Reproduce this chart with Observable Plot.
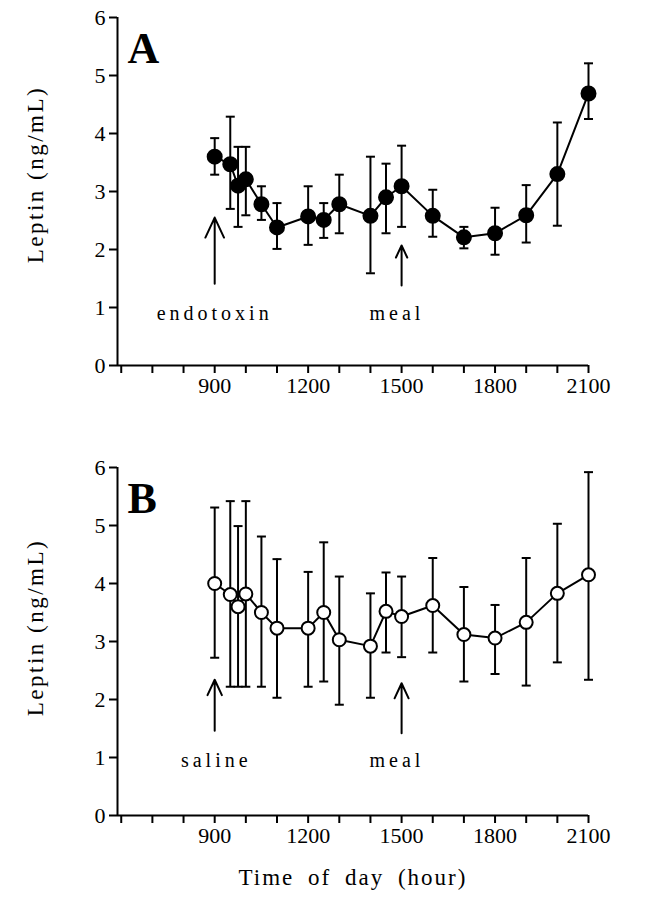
<!DOCTYPE html>
<html>
<head>
<meta charset="utf-8">
<script src="https://cdn.jsdelivr.net/npm/d3@7"></script>
<script src="https://cdn.jsdelivr.net/npm/@observablehq/plot@0.6"></script>
<style>
  html, body { margin: 0; padding: 0; background: #fff; }
  #chart { width: 650px; }
  #chart svg { display: block; overflow: visible; }
</style>
</head>
<body>
<div id="chart"></div>
<script>
// Time of day (decimal hour x 100)
const hours = [900, 950, 975, 1000, 1050, 1100, 1200, 1250, 1300, 1400, 1450, 1500, 1600, 1700, 1800, 1900, 2000, 2100];

// Panel A: endotoxin
const endoMean = [3.60, 3.47, 3.10, 3.21, 2.78, 2.38, 2.57, 2.51, 2.78, 2.58, 2.90, 3.09, 2.58, 2.21, 2.28, 2.59, 3.30, 4.69];
const endoHigh = [3.92, 4.29, 3.77, 3.77, 3.09, 2.80, 3.09, 2.80, 3.29, 3.60, 3.48, 3.79, 3.03, 2.39, 2.72, 3.11, 4.19, 5.21];
const endoLow  = [3.29, 2.70, 2.39, 2.59, 2.51, 2.01, 2.08, 2.20, 2.28, 1.59, 2.28, 2.39, 2.22, 2.02, 1.91, 2.12, 2.41, 4.25];

// Panel B: saline
const salMean = [4.00, 3.81, 3.60, 3.82, 3.50, 3.23, 3.23, 3.50, 3.03, 2.92, 3.52, 3.43, 3.62, 3.12, 3.06, 3.33, 3.83, 4.15];
const salHigh = [5.31, 5.42, 4.99, 5.42, 4.81, 4.42, 4.20, 4.71, 4.12, 3.83, 4.19, 4.12, 4.44, 3.94, 3.63, 4.44, 5.03, 5.92];
const salLow  = [2.72, 2.22, 2.22, 2.22, 2.22, 2.03, 2.22, 2.31, 1.91, 2.03, 2.81, 2.73, 2.81, 2.31, 2.44, 2.24, 2.64, 2.34];

// Ticks and labels
const xTicks = [600, 700, 800, 900, 1000, 1100, 1200, 1300, 1400, 1500, 1600, 1700, 1800, 1900, 2000, 2100];
const xTickLabels = [900, 1200, 1500, 1800, 2100];
const yTicks = [0, 1, 2, 3, 4, 5, 6];
const xDomain = [588, 2100];
const yDomain = [0, 6];

// Annotations (arrows and labels)
const notesA = [
  {text: "endotoxin", x: 900, y: 0.79, ax: 900, ay1: 1.41, ay2: 2.55},
  {text: "meal", x: 1485, y: 0.79, ax: 1500, ay1: 1.38, ay2: 2.07}
];
const notesB = [
  {text: "saline", x: 905, y: 0.84, ax: 900, ay1: 1.46, ay2: 2.34},
  {text: "meal", x: 1485, y: 0.84, ax: 1500, ay1: 1.42, ay2: 2.28}
];

const yLabel = "Leptin (ng/mL)";
const xLabel = "Time of day (hour)";

const capSymbol = {
  draw(ctx, size) {
    const r = Math.sqrt(size / Math.PI);
    ctx.moveTo(-r, 0);
    ctx.lineTo(r, 0);
  }
};

function panel({mean, high, low, filled, letter, notes, height, marginTop, marginBottom, showXLabel, labelShift}) {
  const data = hours.map((t, i) => ({t, m: mean[i], hi: high[i], lo: low[i]}));
  const marks = [
    Plot.ruleY([yDomain[0]], {stroke: "black", strokeWidth: 2}),
    Plot.ruleX([xDomain[0]], {stroke: "black", strokeWidth: 2}),
    Plot.axisY({ticks: yTicks, tickSize: 8, tickPadding: 4, label: null, strokeWidth: 2, fontSize: 22,
      tickFormat: d => String(d)}),
    Plot.axisX({ticks: xTicks, tickSize: 8, tickPadding: 4, label: null, strokeWidth: 2, fontSize: 22,
      tickFormat: d => xTickLabels.includes(d) ? String(d) : ""}),
    Plot.text([yLabel], {frameAnchor: "left", textAnchor: "middle", lineAnchor: "middle", dx: -82, dy: labelShift,
      rotate: -90, fontSize: 23}),
    Plot.text([letter], {frameAnchor: "top-left", dx: 10, dy: 45, lineAnchor: "bottom", textAnchor: "start",
      fontSize: 44, fontWeight: "bold"}),
    Plot.arrow(notes, {x1: "ax", x2: "ax", y1: "ay1", y2: "ay2", stroke: "black", strokeWidth: 2,
      headLength: 20, headAngle: 50}),
    Plot.text(notes, {x: "x", y: "y", text: "text", fontSize: 20, lineAnchor: "bottom"}),
    Plot.ruleX(data, {x: "t", y1: "lo", y2: "hi", stroke: "black", strokeWidth: 2}),
    Plot.dot(data, {x: "t", y: "hi", symbol: capSymbol, r: 4.5, stroke: "black", strokeWidth: 2}),
    Plot.dot(data, {x: "t", y: "lo", symbol: capSymbol, r: 4.5, stroke: "black", strokeWidth: 2}),
    Plot.line(data, {x: "t", y: "m", stroke: "black", strokeWidth: 2}),
    Plot.dot(data, {x: "t", y: "m", r: filled ? 7 : 6.5, fill: filled ? "black" : "white", stroke: "black", strokeWidth: 2})
  ];
  if (showXLabel) {
    marks.push(Plot.text([xLabel], {frameAnchor: "bottom", dy: 69, fontSize: 23}));
  }
  const svg = Plot.plot({
    width: 650,
    height,
    marginLeft: 117,
    marginRight: 62,
    marginTop,
    marginBottom,
    style: {fontFamily: "'Liberation Serif', 'Times New Roman', serif", color: "black", background: "white", overflow: "visible"},
    x: {domain: xDomain, axis: null},
    y: {domain: yDomain, axis: null},
    marks
  });
  const noteTexts = notes.map(d => d.text);
  d3.select(svg).selectAll('g[aria-label$="tick label"]').attr("font-size", 22).style("font-size", "22px");
  d3.select(svg).selectAll("text").each(function() {
    const s = this.textContent;
    if (noteTexts.includes(s)) this.style.letterSpacing = "4px";
    else if (s === yLabel) this.style.letterSpacing = "2.5px";
    else if (s === xLabel) { this.style.letterSpacing = "2px"; this.style.wordSpacing = "6px"; }
  });
  return svg;
}

const chart = document.getElementById("chart");
chart.appendChild(panel({mean: endoMean, high: endoHigh, low: endoLow, filled: true, letter: "A", notes: notesA,
  height: 400, marginTop: 17, marginBottom: 35, showXLabel: false, labelShift: -17}));
chart.appendChild(panel({mean: salMean, high: salHigh, low: salLow, filled: false, letter: "B", notes: notesB,
  height: 497, marginTop: 67, marginBottom: 82, showXLabel: true, labelShift: -14}));
</script>
</body>
</html>
